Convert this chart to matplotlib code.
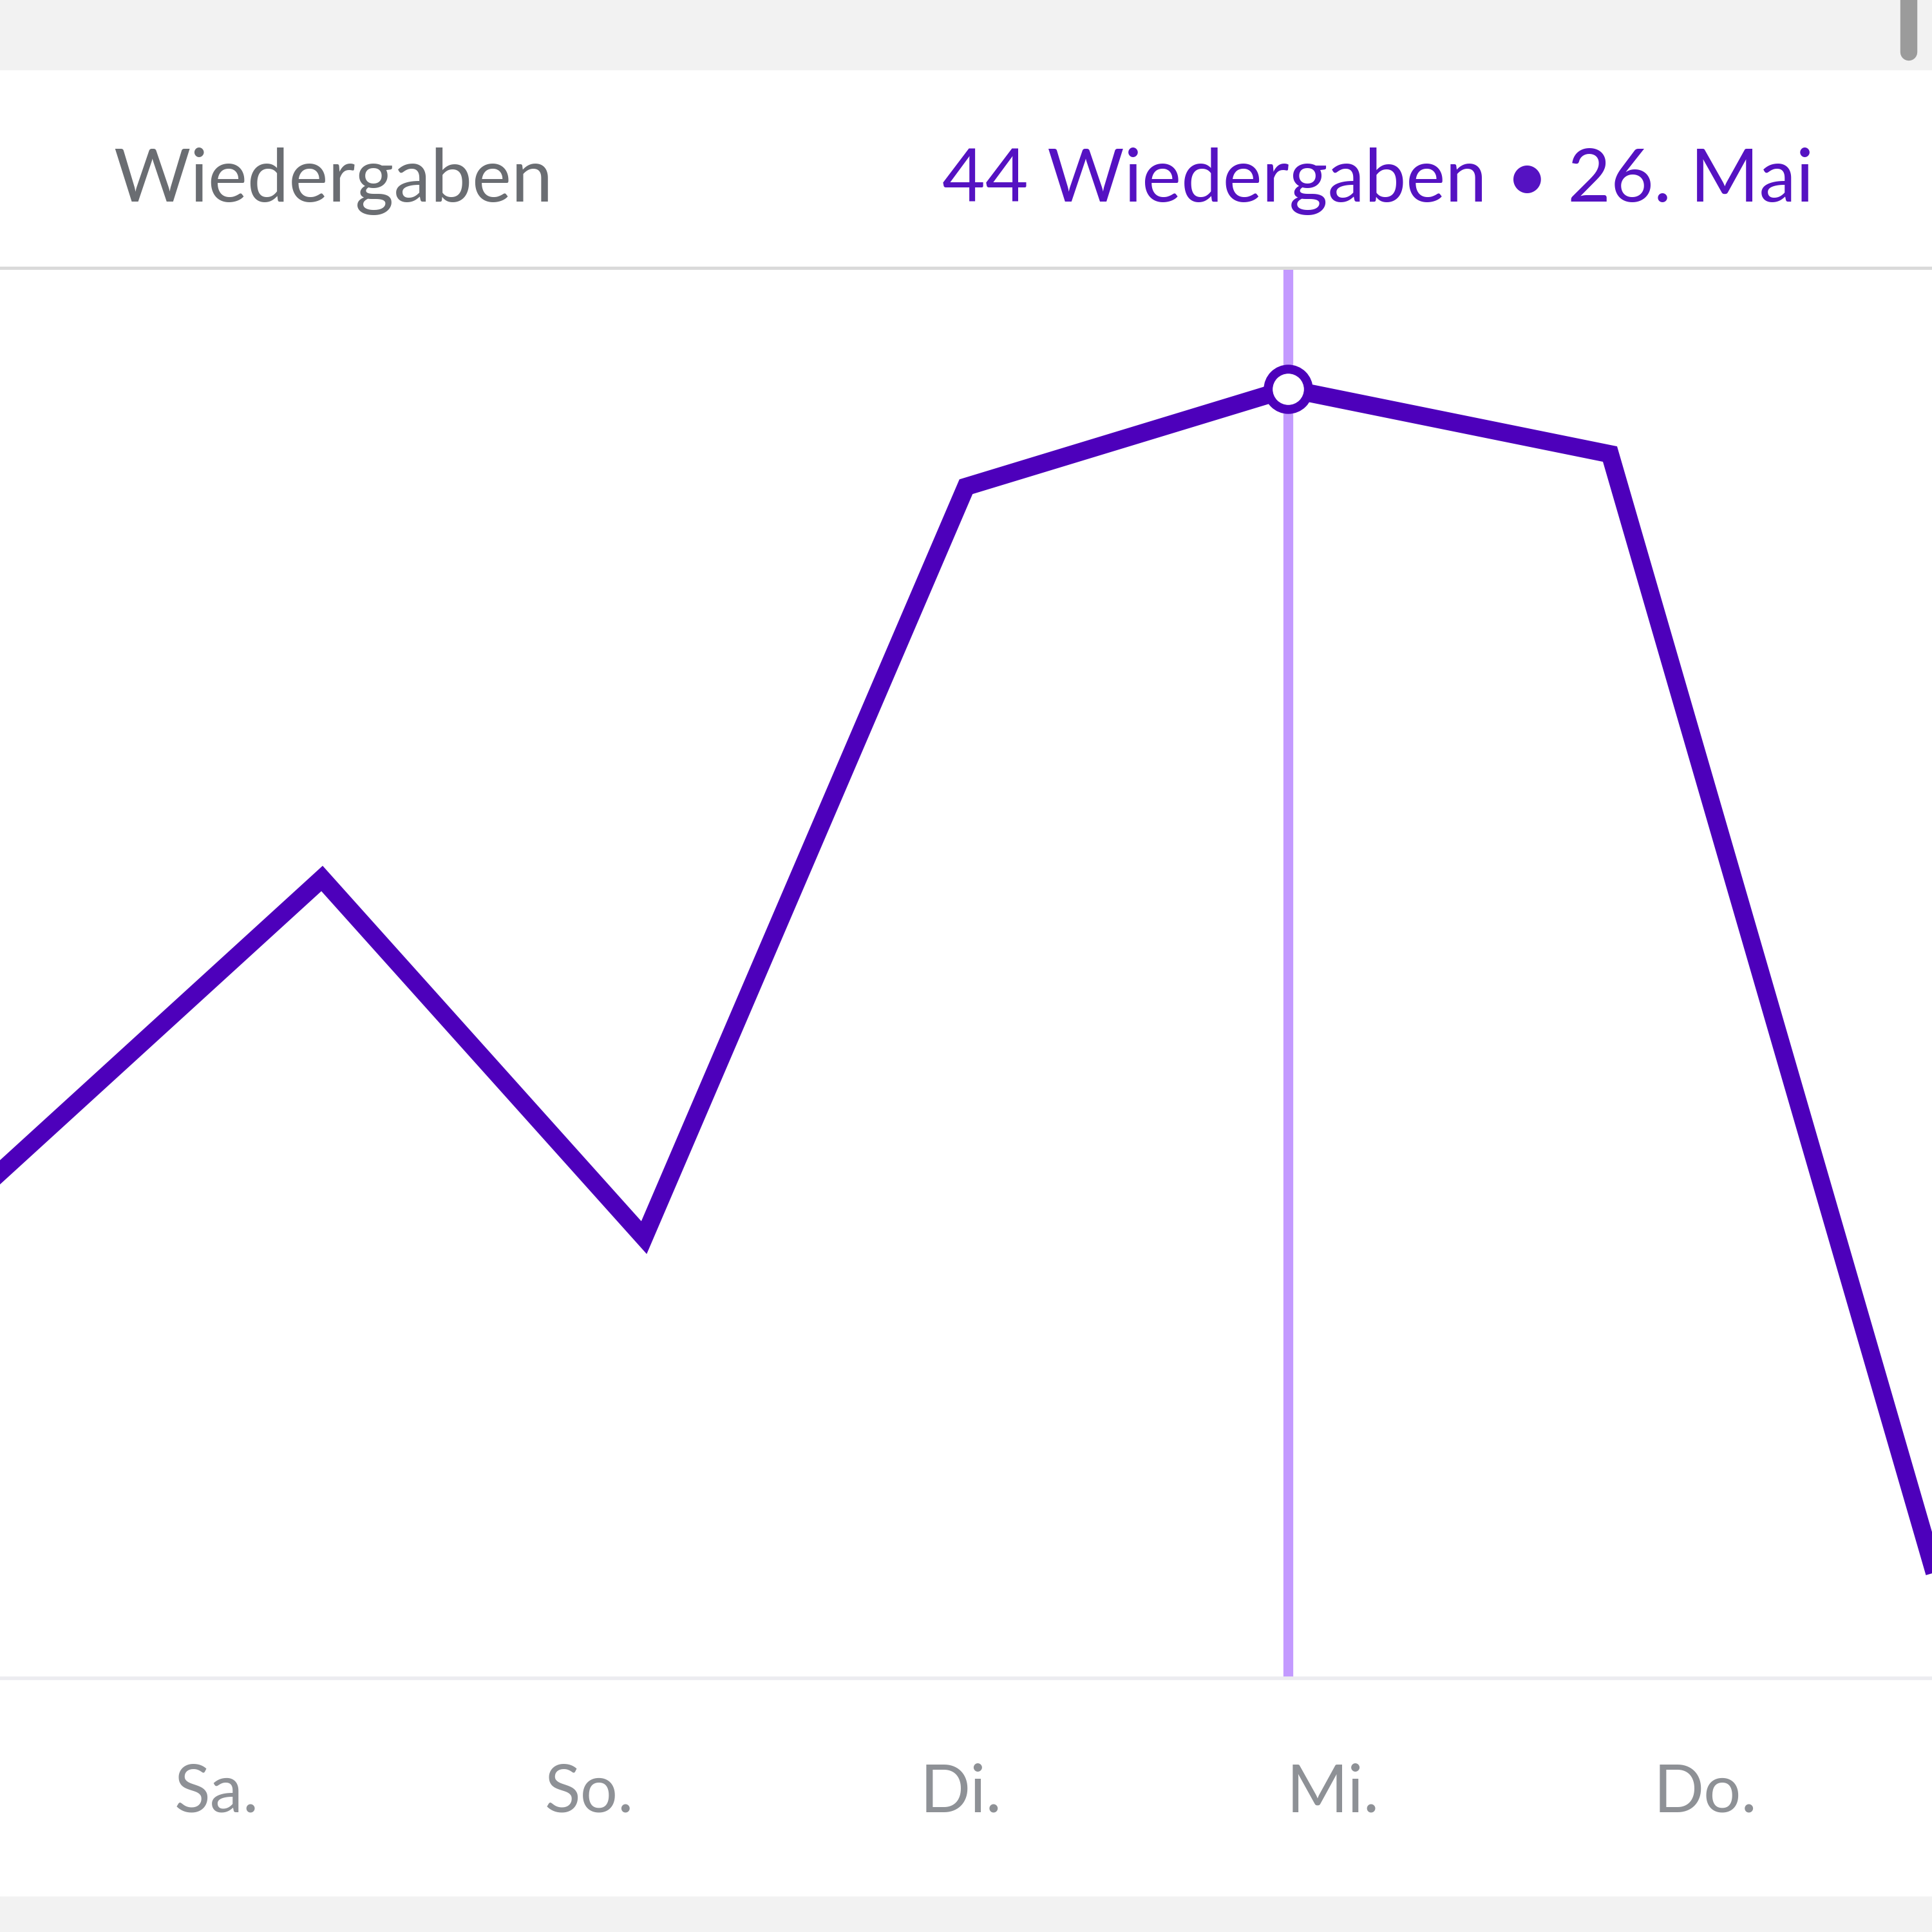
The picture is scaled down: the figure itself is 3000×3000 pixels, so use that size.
import matplotlib.pyplot as plt
from matplotlib.patches import Rectangle
from matplotlib.lines import Line2D
import matplotlib.transforms as mtransforms

plt.rcParams['font.family'] = ['Lato', 'DejaVu Sans']

# daily plays, 22. - 28. Mai
days = ['22. Mai', '23. Mai', '24. Mai', '25. Mai', '26. Mai', '27. Mai', '28. Mai']
plays = [20, 29, 18, 41, 44, 42, 8]
selected = 4

tick_labels = ['Sa.', 'So.', 'Di.', 'Mi.', 'Do.']
tick_pos = [0.673, 1.829, 2.985, 4.14, 5.296]

purple = '#4d00bb'
light_purple = '#c39aff'

fig = plt.figure(figsize=(30, 30), dpi=100)
fig.patch.set_facecolor('white')

# grey page bands top and bottom
fig.add_artist(Rectangle((0, 0.964), 1, 0.036, transform=fig.transFigure, color='#f2f2f2', zorder=0))
fig.add_artist(Rectangle((0, 0), 1, 0.0183, transform=fig.transFigure, color='#f2f2f2', zorder=0))
# scrollbar thumb
fig.add_artist(Line2D([0.988, 0.988], [0.973, 1.01], transform=fig.transFigure,
                      color='#9b9b9b', lw=19, solid_capstyle='round'))

ax = fig.add_axes([0, 0.1313, 1, 0.73])
x = list(range(len(plays)))
ax.axvline(selected, color=light_purple, lw=11, zorder=1)
ax.plot(x, plays, color=purple, lw=20, solid_joinstyle='miter', zorder=2)
ax.plot(x[selected], plays[selected], 'o', ms=45, mfc='white', mec=purple, mew=10, zorder=3)

ax.set_xlim(0, len(plays) - 1)
ax.set_ylim(4.5, 47.7)
ax.set_xticks([])
ax.set_yticks([])
for s in ['left', 'right']:
    ax.spines[s].set_visible(False)
ax.spines['top'].set_color('#dadada')
ax.spines['top'].set_linewidth(3.6)
ax.spines['bottom'].set_color('#ececf0')
ax.spines['bottom'].set_linewidth(4)

trans = mtransforms.blended_transform_factory(ax.transData, fig.transFigure)
for p, lab in zip(tick_pos, tick_labels):
    ax.text(p, 0.0623, lab, transform=trans, ha='center', va='baseline',
            fontsize=74, color='#8e9196')

fig.text(0.0587, 0.8957, 'Wiedergaben', ha='left', va='baseline', fontsize=83, color='#6a6d72')
fig.text(0.9387, 0.8957, f'{plays[selected]} Wiedergaben • {days[selected]}',
         ha='right', va='baseline', fontsize=83, color='#5512c2')

plt.savefig('out.png', dpi=100)
